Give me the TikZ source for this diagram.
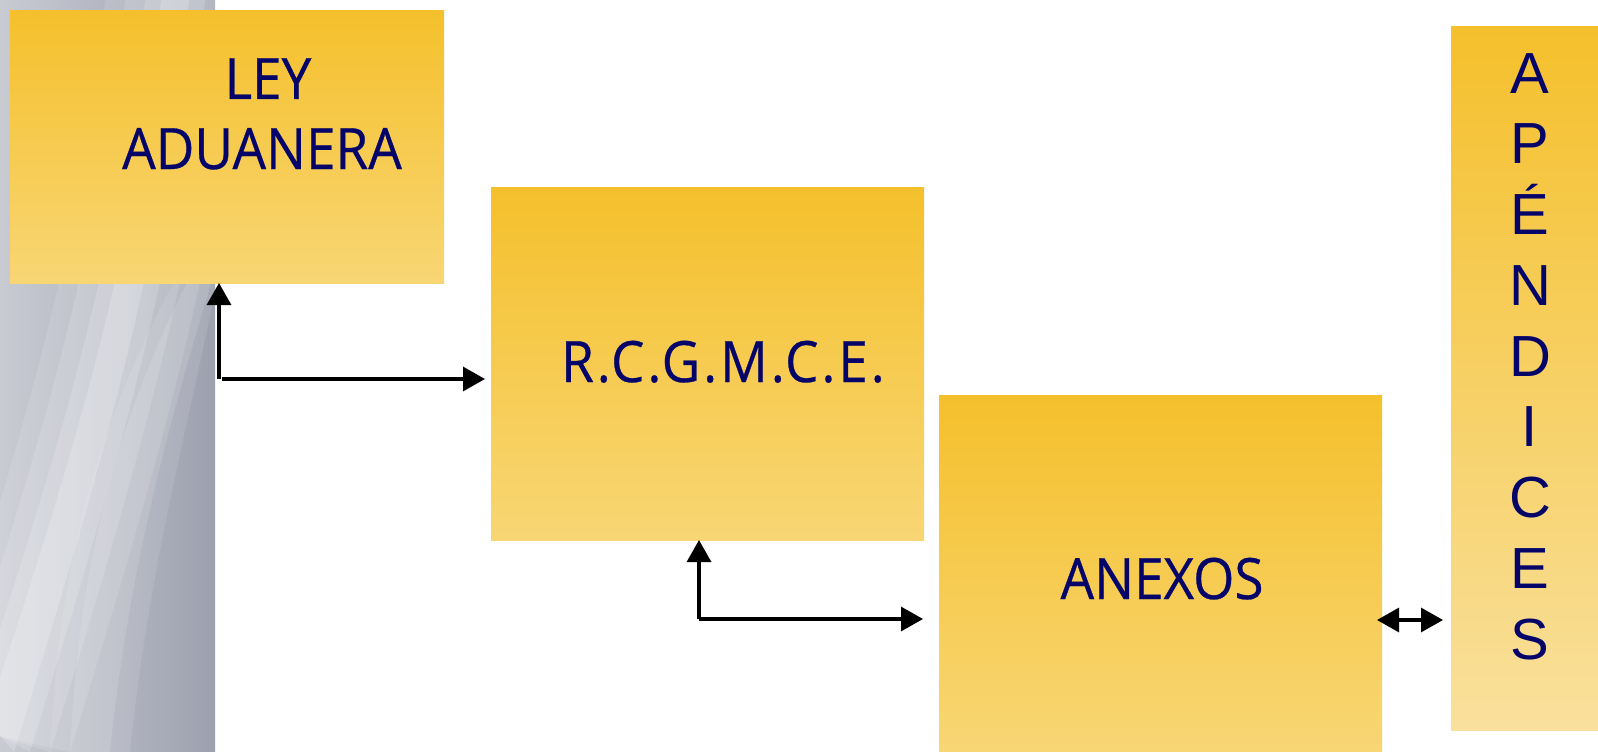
\documentclass[tikz,border=0pt]{standalone}
\usepackage{fontspec}
\setmainfont[FakeStretch=0.93,FakeBold=0.5]{Open Sans}
\newfontfamily\spacedf[FakeStretch=0.93,FakeBold=0.5,LetterSpace=5]{Open Sans}
\newfontfamily\arialf{Liberation Sans}
\usetikzlibrary{arrows.meta}
\definecolor{navy}{RGB}{5,5,105}
\definecolor{gtop}{HTML}{F5C02C}
\definecolor{gbot}{HTML}{F8D674}
\definecolor{gbotl}{HTML}{F9E09C}
\definecolor{steelA}{HTML}{C9CBD3}
\definecolor{steelB}{HTML}{9DA1AF}
\tikzset{
  ybox/.style={inner sep=0pt, outer sep=0pt, top color=gtop, bottom color=gbot, draw=none},
  txt/.style={text=navy, font=\fontsize{57}{60}\selectfont, inner sep=0pt, anchor=base},
  vtxt/.style={text=navy, font=\arialf\fontsize{58}{60}\selectfont, inner sep=0pt, anchor=base},
  conn/.style={line width=3.2pt, draw=black},
  tip/.style={-{Triangle[length=22pt,width=24pt]}},
}
\begin{document}
\begin{tikzpicture}[x=1pt,y=-1pt]
\useasboundingbox (0,0) rectangle (1598,752);
\fill[white] (0,0) rectangle (1598,752);
% metallic strip
\shade[left color=steelA, right color=steelB] (0,0) rectangle (215,752);
\foreach \w/\o in {70/0.12,50/0.14,30/0.16,14/0.2}{
  \fill[white, opacity=\o] (175-\w,0) .. controls (150-\w,250) and (90-\w,450) .. (0-\w,720)
     -- (0+\w,752) .. controls (90+\w,460) and (150+\w,250) .. (175+\w,0) -- cycle;
}
\foreach \w/\o in {40/0.10,20/0.12}{
  \fill[white, opacity=\o] (90-\w,752) .. controls (100-\w,550) and (140-\w,400) .. (215,250-\w)
     -- (215,250+\w) .. controls (150+\w,420) and (110+\w,560) .. (90+\w,752) -- cycle;
}
% boxes
\node[ybox, minimum width=434pt, minimum height=272pt] (ley) at (227,147) {};
\node[ybox, minimum width=433pt, minimum height=353pt] (rcg) at (707.5,363.5) {};
\node[ybox, minimum width=443pt, minimum height=357pt] (anx) at (1160.5,573.5) {};
\node[inner sep=0pt, outer sep=0pt, top color=gtop, bottom color=gbotl, minimum width=147pt, minimum height=703pt] (ape) at (1524.5,378.5) {};
% texts
\node[txt] (t1) at (268,99) {LEY};
\node[txt] (t2) at (262,169) {ADUANERA};
\node[txt, font=\spacedf\fontsize{57}{60}\selectfont] (t3) at (723,382) {R.C.G.M.C.E.};
\node[txt] (t4) at (1162,599) {ANEXOS};
\foreach \l [count=\i from 0] in {A,P,É,N,D,I,C,E,S}{
  \node[vtxt] (v\i) at (1530,{93+70.75*\i}) {\l};
}
% connectors
\coordinate (c1) at (219,379);
\coordinate (c1h) at (222,379);
\coordinate (e1) at (485,379);
\draw[conn, tip] (c1) -- (c1 |- ley.south);
\draw[conn, tip] (c1h) -- (e1);
\coordinate (c2) at (699,619);
\coordinate (e2) at (923,619);
\draw[conn, tip] (c2) -- (c2 |- rcg.south);
\draw[conn, tip] (c2) -- (e2);
\coordinate (d1) at (1377,620);
\coordinate (d2) at (1443,620);
\draw[conn, {Triangle[length=22pt,width=24pt]}-{Triangle[length=22pt,width=24pt]}] (d1) -- (d2);
\end{tikzpicture}
\end{document}
